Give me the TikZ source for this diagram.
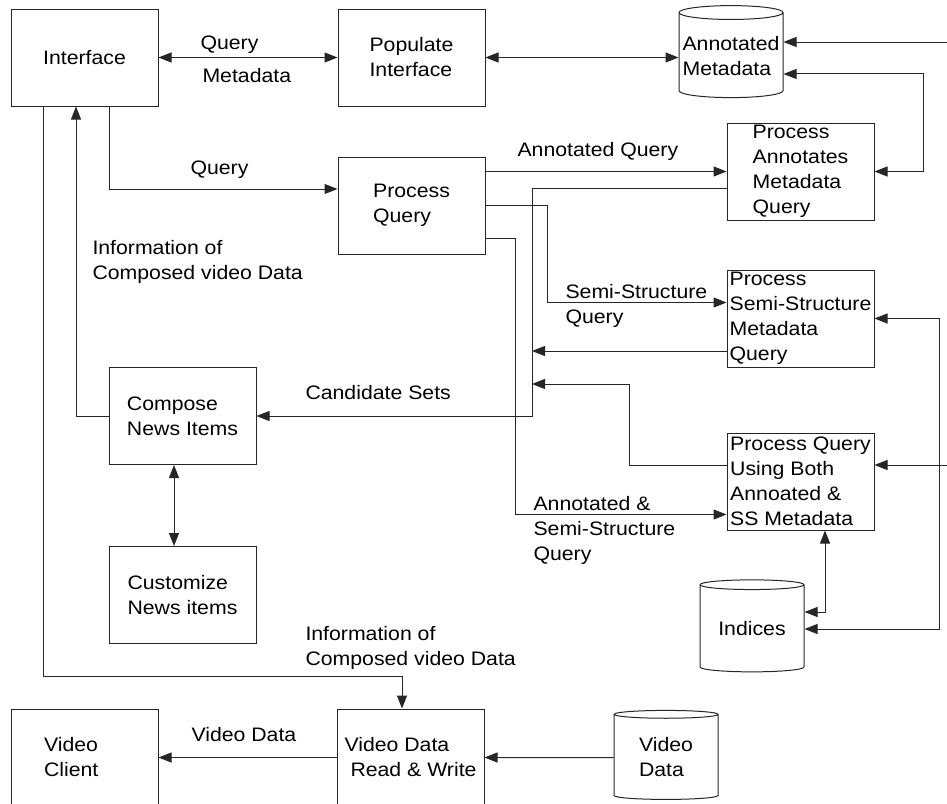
\documentclass[tikz,border=0pt]{standalone}
\usepackage{fontspec}
\setmainfont{Liberation Sans}[FakeStretch=1.09]
\usetikzlibrary{shapes.geometric,arrows.meta,positioning}

\begin{document}
\begin{tikzpicture}[x=1pt,y=-1pt,>={Triangle[length=13pt,width=10pt]},line width=1pt,
  font=\fontsize{19.5}{25}\selectfont,
  box/.style={rectangle,draw=black!85,minimum width=147pt,minimum height=97pt,inner xsep=2pt,inner ysep=0pt,align=left},
  store/.style={cylinder,shape border rotate=90,aspect=0.14,draw=black!85,minimum width=104pt,minimum height=92pt,inner sep=1pt,align=left},
  lbl/.style={anchor=north west,inner sep=0pt,align=left},
  link/.style={draw=black!85}]

  \useasboundingbox (0,0) rectangle (947,803);
  \clip (0,0) rectangle (947,803);

  \node[box] (iface) at (84.5,57.5) {Interface};
  \node[box] (populate) [right=179pt of iface] {Populate\\Interface};
  \node[box] (pquery) [below=50pt of populate] {Process\\Query};
  \node[store] (annmeta) at (731,56) {Annotated\\Metadata};
  \node[box] (pannot) at (800.5,171.5) {Process\\Annotates\\Metadata\\Query};
  \node[box] (psemi) [below=49pt of pannot] {Process\\Semi-Structure\\Metadata\\Query};
  \node[box] (pboth) [below=65pt of psemi] {Process Query\\Using Both\\Annoated \&\\SS Metadata};
  \node[store] (indices) at (752,629) {Indices};
  \node[box] (compose) at (182.5,416) {Compose\\News Items};
  \node[box] (custom) [below=81pt of compose] {Customize\\News items};
  \node[box,text width=81pt] (client) at (84.5,757.5) {Video\\Client};
  \node[box] (rw) at (410.5,757.5) {Video Data\\\hspace{6pt}Read \& Write};
  \node[store,minimum height=89pt] (vdata) at (666,757.5) {Video\\Data};

  \coordinate (rimtop) at (947,42);
  \coordinate (rimmid) at (947,465);
  \coordinate (semitap) at (532,351);
  \coordinate (bothtap) at (532,384);

  % top row
  \draw[link,<->] (iface) -- (populate);
  \draw[link,<->] (populate.east) -- (populate.east -| annmeta.west);
  \draw[link,->] (rimtop) -- (rimtop -| annmeta.east);
  \draw[link,<->] ([yshift=-18pt]annmeta.east) -| ([xshift=49pt]pannot.east) -- (pannot.east);

  % query paths
  \draw[link,->] ([xshift=24.5pt]iface.south) |- ([yshift=16.5pt]pquery.west);
  \draw[link,->] (pquery.east |- pannot.west) -- (pannot.west);
  \draw[link,->] (pquery.east) -| ([xshift=-179pt,yshift=16pt]psemi.west) -- ([yshift=16pt]psemi.west);
  \draw[link,->] ([yshift=-32.5pt]pquery.east) -| ([xshift=-211pt,yshift=-33pt]pboth.west) -- ([yshift=-33pt]pboth.west);

  % candidate sets
  \draw[link,->] ([yshift=-16.5pt]pannot.west) -| ([xshift=276pt]compose.east) -- (compose.east);
  \draw[link,->] (semitap -| psemi.west) -- (semitap);
  \draw[link,->] ([yshift=16pt]pboth.west) -| ([xshift=97pt]bothtap) -- (bothtap);

  % indices
  \draw[link,<->] (psemi.east) -- ++(65,0) |- (indices.east);
  \draw[link,<->] ([xshift=24.5pt]pboth.south) |- ([yshift=17pt]indices.east);
  \draw[link,->] (rimmid) -- (rimmid -| pboth.east);

  % composing and video
  \draw[link,<->] ([xshift=-8.5pt]compose.south) -- ([xshift=-8.5pt]custom.north);
  \draw[link,->] (compose.west) -| ([xshift=-8.5pt]iface.south);
  \draw[link,->] ([xshift=-41.5pt]iface.south) -- ++(0,570) -| ([xshift=-8.5pt]rw.north);
  \draw[link,->] (vdata) -- (rw);
  \draw[link,->] (rw) -- (client);

  \node[lbl] (qtop) at (200,35) {Query};
  \node[lbl] (mtop) at (202,68) {Metadata};
  \node[lbl] (qmid) at (190,160) {Query};
  \node[lbl] (aqlab) at (517,142) {Annotated Query};
  \node[lbl] (sslab) at (565,284) {Semi-Structure\\Query};
  \node[lbl] (asslab) at (533,496) {Annotated \&\\Semi-Structure\\Query};
  \node[lbl] (candlab) at (305,385) {Candidate Sets};
  \node[lbl] (infoup) at (92,240) {Information of\\Composed video Data};
  \node[lbl] (infodown) at (305,626) {Information of\\Composed video Data};
  \node[lbl] (vdlab) at (191,727) {Video Data};
\end{tikzpicture}
\end{document}
